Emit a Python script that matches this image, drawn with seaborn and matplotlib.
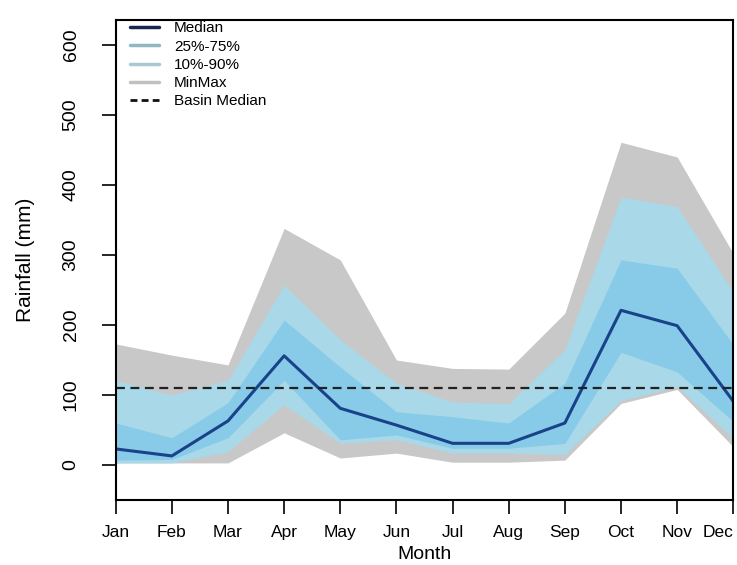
import numpy as np
import pandas as pd
import matplotlib
matplotlib.use("Agg")
import matplotlib.pyplot as plt
from matplotlib.lines import Line2D
import seaborn as sns

# monthly rainfall statistics (mm)
months = ["Jan", "Feb", "Mar", "Apr", "May", "Jun", "Jul", "Aug", "Sep", "Oct", "Nov", "Dec"]
rain_max = [173, 157, 143, 338, 293, 150, 138, 137, 217, 461, 440, 302]
rain_p90 = [121, 100, 121, 257, 179, 117, 90, 88, 165, 383, 369, 247]
rain_p75 = [60, 39, 89, 207, 140, 76, 69, 60, 117, 293, 281, 172]
rain_median = [23, 13, 63, 156, 81, 57, 31, 31, 60, 221, 199, 91]
rain_p25 = [7, 8, 39, 121, 36, 43, 24, 24, 31, 161, 133, 62]
rain_p10 = [3, 3, 19, 86, 31, 36, 17, 17, 15, 92, 112, 38]
rain_min = [3, 3, 3, 46, 10, 17, 4, 4, 7, 88, 108, 26]
basin_median = 110

month_num = np.arange(1, len(months) + 1)
df = pd.DataFrame({"month": month_num, "median": rain_median,
                   "basin": [basin_median] * len(months)})

sns.set_style("white")
plt.rcParams["font.family"] = ["Liberation Sans", "DejaVu Sans"]
plt.rcParams["text.color"] = "black"
plt.rcParams["axes.labelcolor"] = "black"
plt.rcParams["xtick.color"] = "black"
plt.rcParams["ytick.color"] = "black"

fig = plt.figure(figsize=(7.37, 5.65), dpi=100)
ax = fig.add_axes([0.157, 0.115, 0.838, 0.85])

# bands, outermost first
ax.fill_between(month_num, rain_min, rain_max, color="#c8c8c8", lw=0)
ax.fill_between(month_num, rain_p10, rain_p90, color="#a9d8e8", lw=0)
ax.fill_between(month_num, rain_p25, rain_p75, color="#87cbe9", lw=0)

sns.lineplot(data=df, x="month", y="median", ax=ax, color="#1a4289", lw=2.2)
sns.lineplot(data=df, x="month", y="basin", ax=ax, color="#222222", lw=1.6,
             linestyle=(0, (4, 2.5)))

ax.set_xlim(1, 12)
ax.set_ylim(-50, 636)
ax.set_xticks(month_num)
ax.set_xticklabels(months, fontsize=12.5)
ax.get_xticklabels()[-1].set_ha("right")
ax.set_yticks([0, 100, 200, 300, 400, 500, 600])
ax.tick_params(axis="y", labelsize=14, labelrotation=90)
for lab in ax.get_yticklabels():
    lab.set_va("center")
ax.tick_params(axis="both", direction="out", length=10, width=1.2, color="black",
               left=True, bottom=True)
ax.tick_params(axis="x", pad=8)
ax.tick_params(axis="y", pad=16)
for sp in ax.spines.values():
    sp.set_color("black")
    sp.set_linewidth(1.5)

ax.set_xlabel("Month", fontsize=14, labelpad=4)
ax.set_ylabel("Rainfall (mm)", fontsize=15, labelpad=20)

handles = [
    Line2D([], [], color="#1a2550", lw=2.5),
    Line2D([], [], color="#8fb8c2", lw=2.5),
    Line2D([], [], color="#a9c8d2", lw=2.5),
    Line2D([], [], color="#c0c0c0", lw=2.5),
    Line2D([], [], color="#111111", lw=2, linestyle=(0, (2.5, 1.5))),
]
labels = ["Median", "25%-75%", "10%-90%", "MinMax", "Basin Median"]
ax.legend(handles, labels, loc="upper left", frameon=False, fontsize=11,
          handlelength=1.9, handletextpad=1.0, labelspacing=0.28,
          bbox_to_anchor=(0.02, 1.0), borderaxespad=0.0, borderpad=0.1)

fig.savefig("out.png", dpi=100)
